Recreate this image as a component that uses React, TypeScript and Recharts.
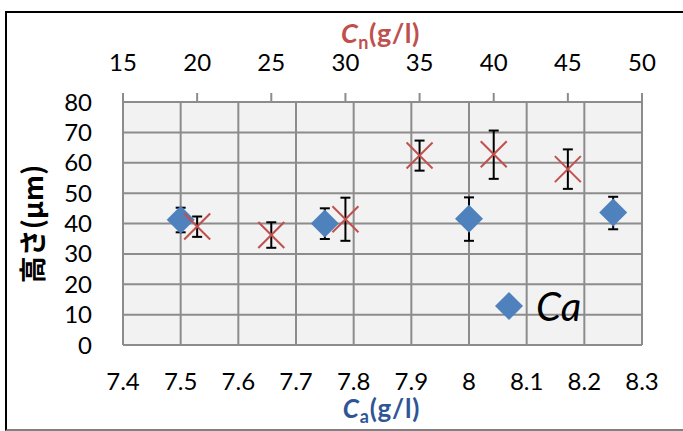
import React from "react";
import { ScatterChart, Scatter, XAxis, YAxis, CartesianGrid, ErrorBar, Legend } from "recharts";

// Ca series (bottom axis)
const caX = [7.5, 7.75, 8.0, 8.25];
const caY = [41.2, 40.0, 41.6, 43.6];
const caErr = [[4.1, 4.0], [5.1, 5.0], [7.3, 7.0], [5.5, 5.2]];

// Cn series (top axis)
const cnX = [20, 25, 30, 35, 40, 45];
const cnY = [39.0, 36.2, 41.4, 62.4, 62.8, 57.9];
const cnErr = [[3.4, 3.3], [4.2, 4.2], [7.1, 7.1], [5.0, 4.9], [8.1, 7.8], [6.5, 6.5]];

const caTicks = [7.4, 7.5, 7.6, 7.7, 7.8, 7.9, 8.0, 8.1, 8.2, 8.3];
const cnTicks = [15, 20, 25, 30, 35, 40, 45, 50];
const yTicks = [0, 10, 20, 30, 40, 50, 60, 70, 80];

const caData = caX.map((x, i) => ({ x, y: caY[i], err: caErr[i] }));
const cnData = cnX.map((x, i) => ({ x, y: cnY[i], err: cnErr[i] }));

const BLUE = "#4f81bd";
const RED = "#c0504d";
const GRID = "#8c8c8c";
const FONT = "Lato, 'Open Sans', sans-serif";

const Diamond = (props: any) => {
  const { cx, cy } = props;
  const r = 14;
  return <polygon points={`${cx},${cy - r} ${cx + r},${cy} ${cx},${cy + r} ${cx - r},${cy}`} fill={BLUE} />;
};

const Cross = (props: any) => {
  const { cx, cy } = props;
  const r = 13;
  return (
    <g stroke={RED} strokeWidth={2}>
      <line x1={cx - r} y1={cy - r} x2={cx + r} y2={cy + r} />
      <line x1={cx - r} y1={cy + r} x2={cx + r} y2={cy - r} />
    </g>
  );
};

const TopTitle = (props: any) => {
  const vb = props.viewBox || { x: 123, width: 519 };
  return (
    <text x={vb.x + vb.width / 2 - 2} y={43} textAnchor="middle" fill={RED} fontFamily={FONT} fontWeight="bold" fontSize={27} letterSpacing={0.5}>
      <tspan fontStyle="italic">C</tspan>
      <tspan fontSize={18} dy={6}>n</tspan>
      <tspan dy={-6}>(g/l)</tspan>
    </text>
  );
};

const BottomTitle = (props: any) => {
  const vb = props.viewBox || { x: 123, width: 519 };
  return (
    <text x={vb.x + vb.width / 2 - 1} y={418} textAnchor="middle" fill="#2f5597" fontFamily={FONT} fontWeight="bold" fontSize={26} letterSpacing={0.8}>
      <tspan fontStyle="italic">C</tspan>
      <tspan fontSize={18} dy={5}>a</tspan>
      <tspan dy={-5}>(g/l)</tspan>
    </text>
  );
};

const YTitle = () => (
  <text
    x={31}
    y={224}
    transform="rotate(-90 31 224)"
    textAnchor="middle"
    dominantBaseline="central"
    fill="#000"
    fontFamily="'Noto Sans CJK JP', sans-serif"
    fontWeight="bold"
    fontSize={27}
  >
    高さ(μm)
  </text>
);

const LegendBox = () => (
  <div style={{ display: "flex", alignItems: "center", fontFamily: FONT }}>
    <svg width={30} height={30}>
      <polygon points="15,1 29,15 15,29 1,15" fill={BLUE} />
    </svg>
    <span style={{ fontStyle: "italic", fontSize: 40, marginLeft: 12, color: "#000", lineHeight: "40px" }}>Ca</span>
  </div>
);

const tickStyle = { fill: "#000", fontSize: 24, fontFamily: FONT };

export default function App() {
  return (
    <div style={{ position: "absolute", left: 0, top: 0, width: 683, height: 431, background: "#fff" }}>
      <div
        style={{
          position: "absolute",
          left: 5,
          top: 11,
          width: 690,
          height: 416,
          borderLeft: "2px solid #000",
          borderTop: "2px solid #000",
          borderBottom: "2px solid #808080",
        }}
      />
      <div style={{ position: "absolute", left: 0, top: 0 }}>
        <ScatterChart width={683} height={431} margin={{ top: 42, right: 41, bottom: 26, left: 63 }}>
          <CartesianGrid xAxisId="bottom" stroke={GRID} strokeWidth={2} fill="#f2f2f2" />
          <XAxis
            xAxisId="bottom"
            type="number"
            dataKey="x"
            orientation="bottom"
            domain={[7.4, 8.3]}
            ticks={caTicks}
            interval={0}
            height={60}
            axisLine={false}
            tickLine={false}
            tickSize={0}
            tickMargin={28}
            tick={tickStyle}
            label={<BottomTitle />}
          />
          <XAxis
            xAxisId="top"
            type="number"
            dataKey="x"
            orientation="top"
            domain={[15, 50]}
            ticks={cnTicks}
            interval={0}
            height={60}
            axisLine={{ stroke: GRID, strokeWidth: 2 }}
            tickLine={{ stroke: GRID, strokeWidth: 2 }}
            tickSize={9}
            tickMargin={22}
            tick={tickStyle}
            label={<TopTitle />}
          />
          <YAxis
            type="number"
            dataKey="y"
            domain={[0, 80]}
            ticks={yTicks}
            interval={0}
            width={60}
            axisLine={false}
            tickLine={false}
            tickSize={0}
            tickMargin={31}
            tick={tickStyle}
            label={<YTitle />}
          />
          <Scatter name="Ca" data={caData} xAxisId="bottom" shape={<Diamond />} isAnimationActive={false}>
            <ErrorBar dataKey="err" direction="y" width={5} stroke="#000" strokeWidth={2} />
          </Scatter>
          <Scatter name="Cn" data={cnData} xAxisId="top" shape={<Cross />} legendType="none" isAnimationActive={false}>
            <ErrorBar dataKey="err" direction="y" width={5} stroke="#000" strokeWidth={2} />
          </Scatter>
          <Legend
            layout="vertical"
            align="center"
            verticalAlign="middle"
            content={<LegendBox />}
            wrapperStyle={{ left: 494, top: 286, width: "auto" }}
          />
        </ScatterChart>
      </div>
    </div>
  );
}
